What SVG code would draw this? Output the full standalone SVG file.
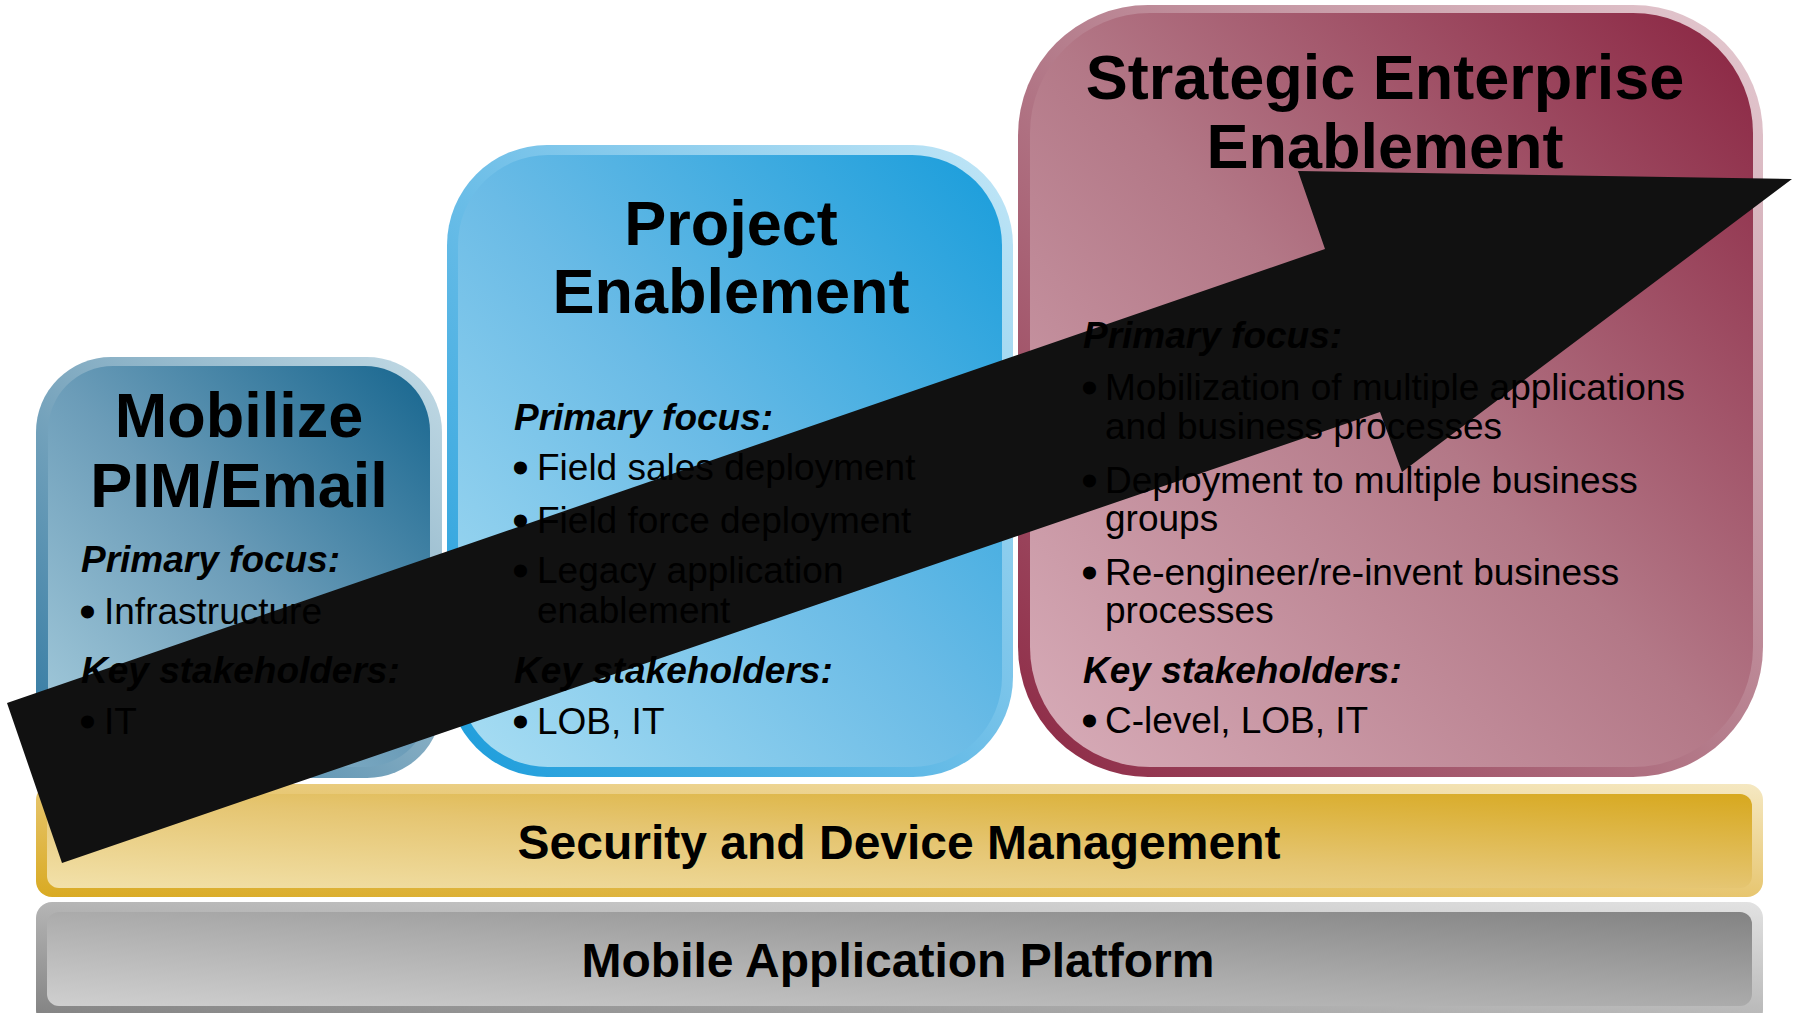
<svg xmlns="http://www.w3.org/2000/svg" width="1795" height="1013" viewBox="0 0 1795 1013">
<defs>
<linearGradient id="mobIn" x1="0" y1="1" x2="1" y2="0"><stop offset="0" stop-color="#a8cede"/><stop offset="0.5" stop-color="#6b9cb8"/><stop offset="1" stop-color="#17668f"/></linearGradient>
<linearGradient id="mobOut" x1="0" y1="1" x2="1" y2="0"><stop offset="0" stop-color="#2c76a0"/><stop offset="0.5" stop-color="#7fa9c0"/><stop offset="1" stop-color="#c3dbe6"/></linearGradient>
<linearGradient id="prjIn" x1="0" y1="1" x2="1" y2="0"><stop offset="0" stop-color="#a9def3"/><stop offset="0.5" stop-color="#6abbe6"/><stop offset="1" stop-color="#199ddb"/></linearGradient>
<linearGradient id="prjOut" x1="0" y1="1" x2="1" y2="0"><stop offset="0" stop-color="#1a9cdb"/><stop offset="0.5" stop-color="#6fbfe8"/><stop offset="1" stop-color="#c3e7f7"/></linearGradient>
<linearGradient id="strIn" x1="0" y1="1" x2="1" y2="0"><stop offset="0" stop-color="#d8adb9"/><stop offset="0.5" stop-color="#b37887"/><stop offset="1" stop-color="#8a2441"/></linearGradient>
<linearGradient id="strOut" x1="0" y1="1" x2="1" y2="0"><stop offset="0" stop-color="#8c2743"/><stop offset="0.5" stop-color="#b57d8c"/><stop offset="1" stop-color="#e6ccd3"/></linearGradient>
<linearGradient id="secIn" x1="0" y1="1" x2="1" y2="0"><stop offset="0" stop-color="#f2e1aa"/><stop offset="0.5" stop-color="#e5c571"/><stop offset="1" stop-color="#d7a81e"/></linearGradient>
<linearGradient id="secOut" x1="0" y1="1" x2="1" y2="0"><stop offset="0" stop-color="#d9aa22"/><stop offset="0.5" stop-color="#e7c670"/><stop offset="1" stop-color="#f5e8c2"/></linearGradient>
<linearGradient id="platIn" x1="0" y1="1" x2="1" y2="0"><stop offset="0" stop-color="#cfcfcf"/><stop offset="0.5" stop-color="#ababab"/><stop offset="1" stop-color="#838383"/></linearGradient>
<linearGradient id="platOut" x1="0" y1="1" x2="1" y2="0"><stop offset="0" stop-color="#7f7f7f"/><stop offset="0.5" stop-color="#b5b5b5"/><stop offset="1" stop-color="#e2e2e2"/></linearGradient>
</defs>
<style>
text{font-family:"Liberation Sans",Arial,sans-serif;fill:#000}
.title{font-size:63px;font-weight:bold;text-anchor:middle}
.head{font-size:37px;font-weight:bold;font-style:italic}
.item{font-size:37px}
.bul{font-size:37px;stroke:#000;stroke-width:3;stroke-linejoin:round}
.bar{font-size:48px;font-weight:bold;text-anchor:middle}
.arrow{fill:#111111}
</style>
<rect width="1795" height="1013" fill="#ffffff"/>

<g id="node-security">
<rect x="36" y="784" width="1727" height="113" rx="16" fill="url(#secOut)"/>
<rect x="47" y="794" width="1705" height="94" rx="12" fill="url(#secIn)"/>
<text class="bar" x="899" y="859">Security and Device Management</text>
</g>
<g id="node-platform">
<rect x="36" y="902" width="1727" height="124" rx="16" fill="url(#platOut)"/>
<rect x="47" y="912" width="1705" height="94" rx="12" fill="url(#platIn)"/>
<text class="bar" x="898" y="977">Mobile Application Platform</text>
</g>

<g id="node-mobilize-box">
<rect x="36" y="357" width="406" height="421" rx="75" fill="url(#mobOut)"/>
<rect x="48" y="366" width="382" height="401" rx="65" fill="url(#mobIn)"/>
</g>
<g id="node-project-box">
<rect x="447" y="145" width="566" height="632" rx="100" fill="url(#prjOut)"/>
<rect x="458" y="155" width="544" height="612" rx="90" fill="url(#prjIn)"/>
</g>
<g id="node-strategic-box">
<rect x="1018" y="5" width="745" height="772" rx="130" fill="url(#strOut)"/>
<rect x="1030" y="13" width="723" height="754" rx="120" fill="url(#strIn)"/>
</g>

<g id="connectors">
<path class="arrow" d="M7 703 L1325 249 L1298 171 L1792 179 L1402 472 L1380 412 L62 863 Z"/>
</g>

<g id="node-mobilize">
<text class="title" x="239" y="437">Mobilize</text>
<text class="title" x="239" y="507">PIM/Email</text>
<text class="head" x="81" y="572">Primary focus:</text>
<text class="bul" x="81" y="624">•</text>
<text class="item" x="104" y="624">Infrastructure</text>
<text class="head" x="81" y="683">Key stakeholders:</text>
<text class="bul" x="81" y="734">•</text>
<text class="item" x="104" y="734">IT</text>
</g>

<g id="node-project">
<text class="title" x="731" y="245">Project</text>
<text class="title" x="731" y="313">Enablement</text>
<text class="head" x="514" y="430">Primary focus:</text>
<text class="bul" x="514" y="480">•</text>
<text class="item" x="537" y="480">Field sales deployment</text>
<text class="bul" x="514" y="533">•</text>
<text class="item" x="537" y="533">Field force deployment</text>
<text class="bul" x="514" y="583">•</text>
<text class="item" x="537" y="583">Legacy application</text>
<text class="item" x="537" y="623">enablement</text>
<text class="head" x="514" y="683">Key stakeholders:</text>
<text class="bul" x="514" y="734">•</text>
<text class="item" x="537" y="734">LOB, IT</text>
</g>

<g id="node-strategic">
<text class="title" x="1385" y="99">Strategic Enterprise</text>
<text class="title" x="1385" y="168">Enablement</text>
<text class="head" x="1083" y="348">Primary focus:</text>
<text class="bul" x="1083" y="400">•</text>
<text class="item" x="1105" y="400">Mobilization of multiple applications</text>
<text class="item" x="1105" y="439">and business processes</text>
<text class="bul" x="1083" y="493">•</text>
<text class="item" x="1105" y="493">Deployment to multiple business</text>
<text class="item" x="1105" y="531">groups</text>
<text class="bul" x="1083" y="585">•</text>
<text class="item" x="1105" y="585">Re-engineer/re-invent business</text>
<text class="item" x="1105" y="623">processes</text>
<text class="head" x="1083" y="683">Key stakeholders:</text>
<text class="bul" x="1083" y="733">•</text>
<text class="item" x="1105" y="733">C-level, LOB, IT</text>
</g>
</svg>
